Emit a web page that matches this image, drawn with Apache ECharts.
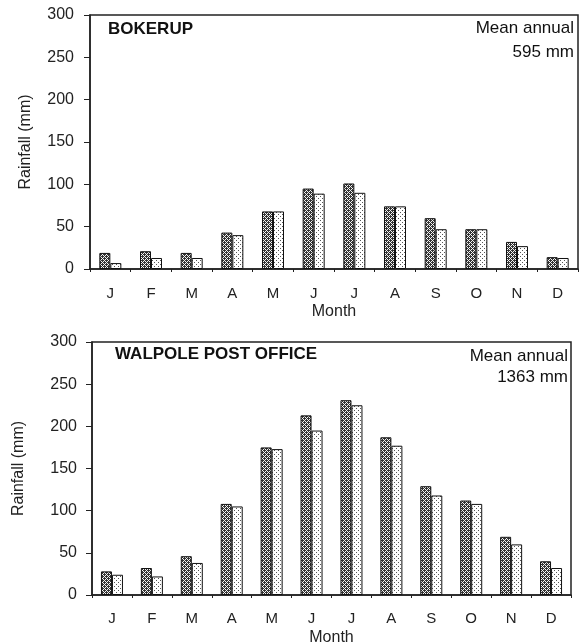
<!DOCTYPE html>
<html>
<head>
<meta charset="utf-8">
<script src="https://cdn.jsdelivr.net/npm/echarts@6/dist/echarts.min.js"></script>
<style>
  html, body { margin: 0; padding: 0; background: #fff; }
  #chart { width: 580px; height: 643px; }
</style>
</head>
<body>
<div id="chart"></div>
<script>
var months = ['J', 'F', 'M', 'A', 'M', 'J', 'J', 'A', 'S', 'O', 'N', 'D'];
var yTicks = [0, 50, 100, 150, 200, 250, 300];

// Bokerup, two records per month (dark / light bars)
var bokerupDark = [19, 21, 19, 43, 68, 95, 101, 74, 60, 47, 32, 14];
var bokerupLight = [7, 13, 13, 40, 68, 89, 90, 74, 47, 47, 27, 13];

// Walpole Post Office
var walpoleDark = [28, 32, 46, 108, 175, 213, 231, 187, 129, 112, 69, 40];
var walpoleLight = [24, 22, 38, 105, 173, 195, 225, 177, 118, 108, 60, 32];

var fontName = 'Liberation Sans';

// small canvas tiles for the stippled bar fills
function makeTile(bg, fg, dots) {
    var c = document.createElement('canvas');
    c.width = 4;
    c.height = 4;
    var ctx = c.getContext('2d');
    ctx.fillStyle = bg;
    ctx.fillRect(0, 0, 4, 4);
    ctx.fillStyle = fg;
    dots.forEach(function (d) {
        ctx.fillRect(d[0], d[1], 1, 1);
    });
    return c;
}
var darkFill = {
    image: makeTile('#333333', '#f4f4f4', [[1, 1], [3, 3], [1, 3], [3, 1], [2, 2], [0, 0]]),
    repeat: 'repeat'
};
var lightFill = {
    image: makeTile('#ffffff', '#555555', [[0, 0], [2, 2]]),
    repeat: 'repeat'
};

var grids = [
    { left: 90, right: 2, top: 15, height: 254 },
    { left: 92, right: 9, top: 342, height: 253 }
];

function xAxisFor(i, margin, gap) {
    return {
        type: 'category',
        gridIndex: i,
        data: months,
        name: 'Month',
        nameLocation: 'middle',
        nameGap: gap,
        nameTextStyle: { color: '#222', fontSize: 16, fontFamily: fontName },
        axisLine: { lineStyle: { color: '#222', width: 1.5 } },
        axisTick: { show: true, length: 3, lineStyle: { color: '#222' } },
        axisLabel: { margin: margin, color: '#222', fontSize: 15, fontFamily: fontName }
    };
}

function yAxisFor(i, margin, gap) {
    return {
        type: 'value',
        gridIndex: i,
        min: 0,
        max: 300,
        interval: 50,
        name: 'Rainfall (mm)',
        nameLocation: 'middle',
        nameGap: gap,
        nameTextStyle: { color: '#222', fontSize: 16, fontFamily: fontName },
        axisLine: { show: true, lineStyle: { color: '#222', width: 1.5 } },
        axisTick: { show: true, inside: false, length: 6, lineStyle: { color: '#222' } },
        splitLine: { show: false },
        axisLabel: {
            margin: margin,
            color: '#222',
            fontSize: 16,
            fontFamily: fontName,
            formatter: function (v) { return yTicks.indexOf(v) >= 0 ? String(v) : ''; }
        }
    };
}

function barSeries(data, fill, axis) {
    return {
        type: 'bar',
        xAxisIndex: axis,
        yAxisIndex: axis,
        data: data,
        barWidth: 11,
        barGap: '0%',
        itemStyle: { color: fill, borderColor: '#111', borderWidth: 1 },
        silent: true
    };
}

function label(x, y, text, align, bold) {
    return {
        type: 'text',
        left: align === 'right' ? null : x,
        right: align === 'right' ? x : null,
        top: y,
        style: {
            text: text,
            fill: '#111',
            font: (bold ? 'bold ' : '') + '17px "' + fontName + '"'
        }
    };
}

var chart = echarts.init(document.getElementById('chart'));
chart.setOption({
    animation: false,
    grid: grids.map(function (g) {
        return Object.assign({
            show: true,
            borderColor: '#222',
            borderWidth: 1.5,
            backgroundColor: 'transparent',
            containLabel: false,
            outerBoundsMode: 'none'
        }, g);
    }),
    xAxis: [xAxisFor(0, 17, 35), xAxisFor(1, 16, 35)],
    yAxis: [yAxisFor(0, 16, 56), yAxisFor(1, 15, 65)],
    series: [
        barSeries(bokerupDark, darkFill, 0),
        barSeries(bokerupLight, lightFill, 0),
        barSeries(walpoleDark, darkFill, 1),
        barSeries(walpoleLight, lightFill, 1)
    ],
    graphic: [
        label(108, 21, 'BOKERUP', 'left', true),
        label(6, 20, 'Mean annual', 'right', false),
        label(6, 44, '595 mm', 'right', false),
        label(115, 346, 'WALPOLE POST OFFICE', 'left', true),
        label(12, 348, 'Mean annual', 'right', false),
        label(12, 369, '1363 mm', 'right', false)
    ]
});
</script>
</body>
</html>
